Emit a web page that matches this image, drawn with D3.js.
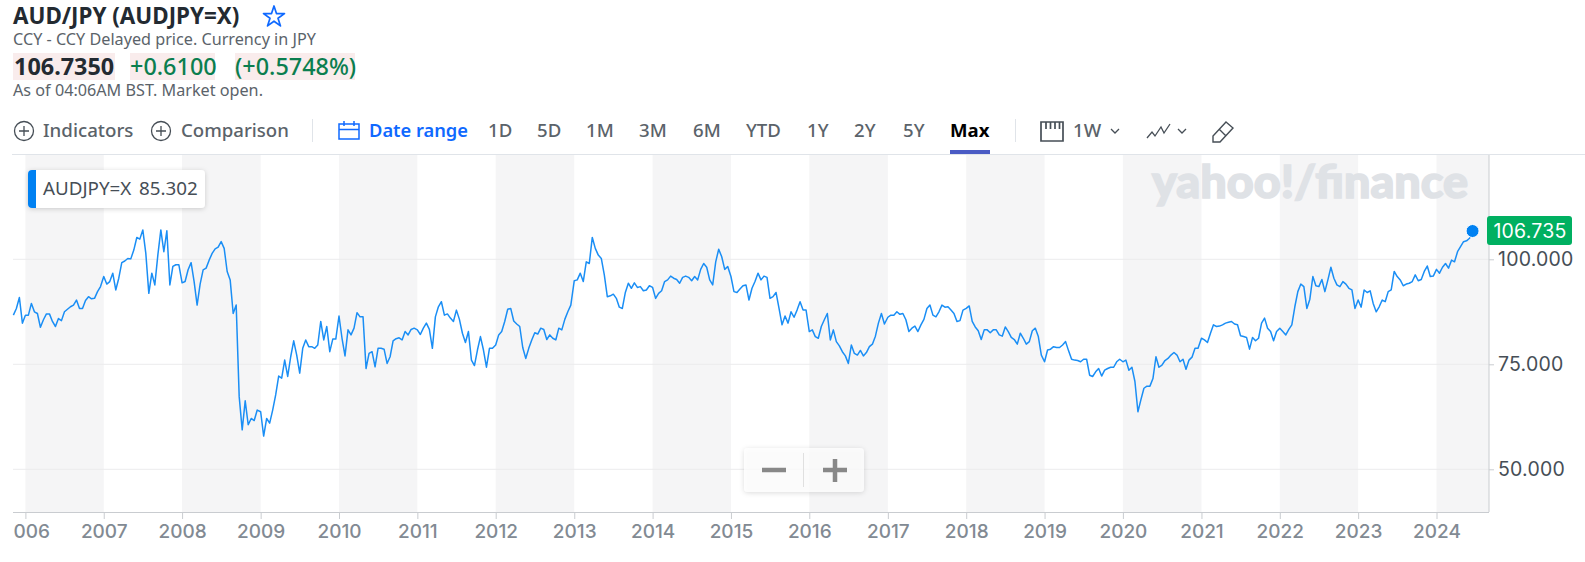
<!DOCTYPE html>
<html>
<head>
<meta charset="utf-8">
<title>AUD/JPY</title>
<script src="https://cdn.jsdelivr.net/npm/d3@7"></script>
<style>
  html, body { margin: 0; padding: 0; background: #fff; }
  svg { display: block; }
  text { font-family: "Noto Sans", "Open Sans", sans-serif; }
  .axis text { font-family: Inter, "Noto Sans", sans-serif; }
</style>
</head>
<body>
<div id="chart"></div>
<script>
// biweekly closes, one list per year
const closes2005 = [86.7, 88.3, 90.9, 84.8];
const closes2006 = [86.7, 86.7, 89.5, 87.5, 87.1, 83.8, 85.6, 87.0, 87.0, 85.2, 84.0, 85.9, 85.4, 87.5, 88.1, 88.7, 89.1, 90.3, 88.3, 88.3, 90.2, 91.1, 90.6, 90.7, 92.3, 93.5];
const closes2007 = [95.9, 94.1, 94.7, 96.7, 92.7, 95.5, 99.2, 99.6, 100.2, 100.1, 102.2, 105.2, 104.8, 107.0, 101.4, 91.9, 96.7, 93.9, 101.0, 107.0, 101.8, 106.8, 93.9, 98.3, 98.7, 98.7];
const closes2008 = [94.4, 94.7, 97.5, 99.2, 94.7, 89.1, 94.1, 97.5, 97.9, 99.8, 101.4, 102.5, 102.9, 104.2, 102.6, 97.1, 95.1, 87.1, 89.1, 67.3, 59.4, 66.3, 60.6, 62.1, 61.6, 64.1];
const closes2009 = [63.7, 57.9, 62.1, 61.0, 64.1, 67.7, 72.2, 71.7, 76.0, 72.1, 76.8, 80.6, 77.2, 72.9, 78.8, 80.8, 79.2, 79.2, 78.8, 79.6, 85.2, 80.8, 84.0, 78.0, 81.0, 81.0];
const closes2010 = [86.5, 81.2, 77.0, 83.2, 82.0, 83.6, 87.3, 86.3, 86.3, 74.0, 77.6, 78.0, 74.4, 78.8, 78.8, 78.6, 75.2, 76.8, 80.6, 81.1, 81.3, 80.8, 82.8, 82.0, 83.3, 83.6];
const closes2011 = [83.2, 82.1, 83.6, 84.8, 83.3, 78.8, 86.3, 88.7, 89.9, 86.7, 87.0, 86.0, 85.2, 87.9, 85.7, 82.4, 80.2, 82.8, 76.0, 74.7, 78.4, 81.6, 78.4, 74.3, 78.8, 78.8];
const closes2012 = [79.6, 82.0, 82.8, 85.2, 88.1, 88.3, 85.3, 84.6, 84.0, 79.0, 76.4, 78.8, 80.8, 82.5, 82.2, 83.6, 83.3, 80.9, 82.0, 81.2, 80.8, 83.6, 83.2, 85.7, 87.5, 89.1];
const closes2013 = [94.9, 95.1, 96.7, 94.7, 99.4, 99.0, 105.2, 102.6, 101.0, 100.2, 96.3, 91.1, 91.3, 91.7, 90.7, 88.6, 88.3, 92.1, 94.3, 93.1, 94.4, 93.3, 93.5, 92.5, 92.7, 93.7];
const closes2014 = [93.3, 90.7, 91.9, 92.5, 94.7, 95.1, 96.0, 95.5, 95.2, 94.3, 95.7, 96.0, 95.7, 94.9, 95.9, 95.1, 97.6, 99.0, 98.1, 95.1, 93.9, 99.4, 102.4, 100.6, 97.6, 98.3];
const closes2015 = [95.9, 92.3, 92.1, 92.9, 93.7, 93.9, 90.3, 93.1, 94.7, 96.7, 95.1, 96.0, 95.7, 90.7, 91.1, 92.1, 88.3, 84.4, 86.5, 84.8, 87.5, 86.2, 87.9, 89.9, 87.9, 87.9];
const closes2016 = [82.8, 83.2, 81.6, 81.2, 84.0, 85.6, 87.1, 80.8, 83.2, 80.4, 79.4, 78.0, 77.0, 75.2, 79.6, 77.6, 77.2, 78.3, 77.0, 77.8, 79.2, 79.8, 81.7, 84.8, 87.1, 84.6];
const closes2017 = [86.2, 86.7, 86.7, 87.5, 86.9, 87.1, 85.6, 82.8, 83.6, 84.1, 82.8, 84.4, 85.7, 88.3, 89.1, 86.7, 86.3, 87.5, 89.1, 88.6, 88.7, 87.9, 87.1, 85.2, 85.4, 87.9];
const closes2018 = [88.3, 88.9, 85.2, 83.9, 83.0, 80.9, 83.2, 83.2, 82.5, 83.2, 83.2, 82.0, 81.7, 83.9, 82.8, 81.4, 80.9, 79.8, 82.4, 81.2, 79.8, 80.4, 83.0, 83.6, 81.6, 77.2];
const closes2019 = [75.6, 78.4, 78.6, 79.2, 79.0, 79.0, 79.6, 80.4, 78.2, 76.2, 76.0, 75.9, 75.6, 76.2, 76.2, 72.4, 72.1, 73.2, 74.0, 72.2, 73.6, 74.0, 74.3, 74.3, 75.6, 76.2];
const closes2020 = [75.6, 76.0, 73.6, 74.3, 70.9, 63.7, 66.6, 69.3, 69.8, 69.8, 71.6, 76.8, 74.3, 74.8, 75.9, 76.4, 77.2, 77.8, 77.2, 75.6, 76.2, 73.8, 76.0, 76.7, 78.8, 78.8];
const closes2021 = [81.2, 80.8, 80.2, 82.4, 84.4, 84.0, 84.1, 84.4, 84.8, 85.0, 85.2, 84.6, 84.4, 81.8, 81.6, 81.4, 78.6, 81.4, 80.6, 81.2, 84.8, 86.0, 83.6, 82.8, 80.6, 82.8];
const closes2022 = [83.6, 82.8, 82.0, 83.3, 84.4, 88.7, 92.3, 94.1, 93.5, 88.3, 90.5, 95.9, 93.7, 93.5, 95.2, 92.3, 95.1, 98.1, 95.5, 93.9, 93.5, 94.7, 94.1, 93.1, 92.7, 88.3];
const closes2023 = [90.3, 88.6, 92.7, 92.1, 92.5, 89.5, 87.5, 88.7, 90.3, 89.9, 92.3, 92.7, 97.1, 95.9, 95.1, 93.7, 94.1, 94.3, 94.7, 96.3, 94.9, 95.2, 97.1, 98.4, 95.9, 96.0];
const closes2024 = [97.6, 96.7, 98.1, 99.0, 97.9, 99.8, 99.4, 101.8, 103.0, 104.2, 104.4, 105.0, 106.735];

const yearTicks = d3.range(2006, 2025);
const priceTicks = [50, 75, 100];
const lastPrice = 106.735;
const ranges = ["1D", "5D", "1M", "3M", "6M", "YTD", "1Y", "2Y", "5Y", "Max"];
const rangeX = [488, 537, 586, 639, 693, 746, 807, 854, 903, 950];

const yearLists = [closes2006, closes2007, closes2008, closes2009, closes2010, closes2011, closes2012, closes2013, closes2014,
  closes2015, closes2016, closes2017, closes2018, closes2019, closes2020, closes2021, closes2022, closes2023, closes2024];

const series = [];
closes2005.forEach((v, i) => series.push({ date: new Date(Date.UTC(2006, 0, 1 + (i - closes2005.length) * 14)), value: v }));
yearLists.forEach((list, k) => {
  list.forEach((v, i) => series.push({ date: new Date(Date.UTC(yearTicks[k], 0, 1 + i * 14)), value: v }));
});

const width = 1585, height = 562;
const plotLeft = 13, plotRight = 1489, plotTop = 155, plotBottom = 512;

const svg = d3.select("#chart").append("svg").attr("width", width).attr("height", height);

const x = d3.scaleUtc().domain([new Date(Date.UTC(2006, 0, 1)), new Date(Date.UTC(2024, 0, 1))]).range([25.4, 1436.5]);
const y = d3.scaleLinear().domain([50, 100]).range([469.3, 259.3]);

// shadow for the floating boxes
const defs = svg.append("defs");
const shadow = defs.append("filter").attr("id", "shadow").attr("x", "-20%").attr("y", "-30%").attr("width", "140%").attr("height", "170%");
shadow.append("feDropShadow").attr("dx", 0).attr("dy", 1).attr("stdDeviation", 2.5).attr("flood-color", "#000").attr("flood-opacity", 0.18);
defs.append("clipPath").attr("id", "plotClip").append("rect")
  .attr("x", plotLeft).attr("y", 0).attr("width", plotRight - plotLeft + 100).attr("height", height);

// year stripes
const stripeYears = yearTicks.filter((d, i) => i % 2 === 0);
svg.append("g").selectAll("rect").data(stripeYears).join("rect")
  .attr("x", d => x(new Date(Date.UTC(d, 0, 1))))
  .attr("y", plotTop)
  .attr("width", d => Math.min(plotRight, x(new Date(Date.UTC(d + 1, 0, 1)))) - x(new Date(Date.UTC(d, 0, 1))))
  .attr("height", plotBottom - plotTop)
  .attr("fill", "#f5f5f6");

// watermark
svg.append("text").attr("x", 1152).attr("y", 198)
  .attr("textLength", 316).attr("lengthAdjust", "spacingAndGlyphs")
  .style("font-family", "Lato, 'Noto Sans', sans-serif")
  .attr("font-size", 46).attr("font-weight", 900).attr("fill", "#dfe2e6")
  .attr("stroke", "#dfe2e6").attr("stroke-width", 1.6)
  .text("yahoo!/finance");

// grid
svg.append("g").selectAll("line").data(priceTicks).join("line")
  .attr("x1", plotLeft).attr("x2", plotRight)
  .attr("y1", d => y(d)).attr("y2", d => y(d))
  .attr("stroke", "#ebebed").attr("stroke-width", 1);

// price line
const line = d3.line().x(d => x(d.date)).y(d => y(d.value));
svg.append("path").datum(series)
  .attr("d", line)
  .attr("fill", "none").attr("stroke", "#1a8ef5").attr("stroke-width", 1.5).attr("stroke-linejoin", "round");

// axes
const xAxis = d3.axisBottom(x)
  .tickValues(yearTicks.map(d => new Date(Date.UTC(d, 0, 1))))
  .tickFormat(d3.utcFormat("%Y")).tickSize(7).tickSizeOuter(0).tickPadding(6);
const xg = svg.append("g").attr("class", "axis").attr("transform", `translate(0,${plotBottom})`).attr("clip-path", "url(#plotClip)").call(xAxis);
xg.select(".domain").remove();
xg.selectAll("line").attr("stroke", "#c9ccd0");
xg.selectAll("text").attr("font-size", 19).attr("font-weight", 500).attr("fill", "#828a93");
svg.append("line").attr("x1", plotLeft).attr("x2", plotRight).attr("y1", plotBottom + 0.5).attr("y2", plotBottom + 0.5).attr("stroke", "#c9ccd0");
svg.append("line").attr("x1", plotRight).attr("x2", plotRight).attr("y1", plotTop).attr("y2", plotBottom).attr("stroke", "#c9ccd0");

const yAxis = d3.axisRight(y).tickValues(priceTicks).tickFormat(d3.format(".3f")).tickSize(5).tickPadding(4);
const yg = svg.append("g").attr("class", "axis").attr("transform", `translate(${plotRight},0)`).call(yAxis);
yg.select(".domain").remove();
yg.selectAll("line").attr("stroke", "#c9ccd0");
yg.selectAll("text").attr("font-size", 19.5).attr("letter-spacing", 0.2).attr("fill", "#464e56");

// last value dot and badge
const last = series[series.length - 1];
svg.append("circle").attr("cx", x(last.date)).attr("cy", y(last.value)).attr("r", 6.5)
  .attr("fill", "#0081f2").attr("stroke", "#fff").attr("stroke-width", 1);
svg.append("rect").attr("x", 1487).attr("y", y(lastPrice) - 15).attr("width", 85).attr("height", 29).attr("rx", 3).attr("fill", "#00b061");
svg.append("text").attr("x", 1530).attr("y", y(lastPrice)).attr("dy", "0.35em").attr("text-anchor", "middle")
  .style("font-family", "Inter, 'Noto Sans', sans-serif")
  .attr("font-size", 19.5).attr("letter-spacing", 0.2).attr("fill", "#fff").text(d3.format(".3f")(lastPrice));

// header
function label(tx, ty, str, size, color, weight) {
  return svg.append("text").attr("x", tx).attr("y", ty).attr("font-size", size)
    .attr("font-weight", weight || 400).attr("fill", color).text(str);
}
label(13, 24, "AUD/JPY (AUDJPY=X)", 22.4, "#232a31", 700);
svg.append("path").attr("d", d3.symbol(d3.symbolStar, 136)())
  .attr("transform", "translate(274,17)").attr("fill", "none").attr("stroke", "#0f69ff").attr("stroke-width", 1.7).attr("stroke-linejoin", "round");
label(13, 45, "CCY - CCY Delayed price. Currency in JPY", 16.2, "#5b636a");
[[13, 102], [130, 85], [235, 120]].forEach(b => {
  svg.append("rect").attr("x", b[0]).attr("y", 53).attr("width", b[1]).attr("height", 27).attr("fill", "#f9ecec");
});
label(14, 75, "106.7350", 23.4, "#232a31", 700);
label(130, 75, "+0.6100", 23.4, "#0b7e4f", 500);
label(235, 75, "(+0.5748%)", 23.4, "#0b7e4f", 500);
label(13, 96, "As of 04:06AM BST. Market open.", 16.2, "#5b636a");

// toolbar
function plusCircle(cx) {
  svg.append("circle").attr("cx", cx).attr("cy", 131).attr("r", 9.5).attr("fill", "none").attr("stroke", "#464e56").attr("stroke-width", 1.3);
  svg.append("path").attr("d", `M${cx - 5},131H${cx + 5}M${cx},126V136`).attr("stroke", "#464e56").attr("stroke-width", 1.3);
}
plusCircle(24);
label(43, 137, "Indicators", 18.7, "#5b636a", 500);
plusCircle(161);
label(181, 137, "Comparison", 18.6, "#5b636a", 500);
svg.append("line").attr("x1", 312.5).attr("x2", 312.5).attr("y1", 119).attr("y2", 142).attr("stroke", "#e0e4e9");
svg.append("path").attr("d", "M339,124H359V139H339ZM339,129.5H359M344,121V126M354,121V126")
  .attr("fill", "none").attr("stroke", "#0f69ff").attr("stroke-width", 1.5);
label(369, 137, "Date range", 18.3, "#0f69ff", 600);

svg.append("g").selectAll("text").data(ranges).join("text")
  .attr("x", (d, i) => rangeX[i]).attr("y", 137).attr("font-size", 18.6)
  .attr("font-weight", d => d === "Max" ? 700 : 500).attr("fill", d => d === "Max" ? "#000" : "#5b636a").text(d => d);
svg.append("rect").attr("x", 950).attr("y", 150).attr("width", 40).attr("height", 4).attr("fill", "#4a5bc4");
svg.append("line").attr("x1", 12).attr("x2", width).attr("y1", 154.5).attr("y2", 154.5).attr("stroke", "#e0e4e9");
svg.append("line").attr("x1", 1015.5).attr("x2", 1015.5).attr("y1", 119).attr("y2", 142).attr("stroke", "#e0e4e9");

svg.append("path").attr("d", "M1041,122H1063V141H1041ZM1046,122V129M1050.5,122V129M1055,122V129M1059.5,122V129")
  .attr("fill", "none").attr("stroke", "#464e56").attr("stroke-width", 1.7);
label(1073, 137, "1W", 18.6, "#5b636a", 500);
svg.append("path").attr("d", "M1111,129L1115,133L1119,129").attr("fill", "none").attr("stroke", "#464e56").attr("stroke-width", 1.3);
svg.append("path").attr("d", "M1147,138L1152,132L1155,136L1161,127L1164,133L1170,124").attr("fill", "none").attr("stroke", "#464e56").attr("stroke-width", 1.3);
svg.append("path").attr("d", "M1178,129L1182,133L1186,129").attr("fill", "none").attr("stroke", "#464e56").attr("stroke-width", 1.3);
svg.append("path").attr("d", "M1226,122L1233,128L1220,142H1213V136ZM1219,129L1226,136").attr("fill", "none").attr("stroke", "#464e56").attr("stroke-width", 1.4);

// hover tag
svg.append("rect").attr("x", 28).attr("y", 170).attr("width", 177).attr("height", 38).attr("rx", 4).attr("fill", "#fff").attr("filter", "url(#shadow)");
svg.append("path").attr("d", "M36,170V208H32A4,4 0 0 1 28,204V174A4,4 0 0 1 32,170Z").attr("fill", "#0081f2");
label(43, 195, "AUDJPY=X", 18.8, "#464e56");
label(139, 195, "85.302", 18.8, "#464e56");

// zoom buttons
svg.append("rect").attr("x", 744).attr("y", 448).attr("width", 120).attr("height", 44).attr("rx", 4)
  .attr("fill", "#fff").attr("fill-opacity", 0.75).attr("filter", "url(#shadow)");
svg.append("line").attr("x1", 803.5).attr("x2", 803.5).attr("y1", 453).attr("y2", 487).attr("stroke", "#e0e0e0");
svg.append("path").attr("d", "M762,470H786M823,470H847M835,459V482").attr("fill", "none").attr("stroke", "#888").attr("stroke-width", 4.5);
</script>
</body>
</html>
